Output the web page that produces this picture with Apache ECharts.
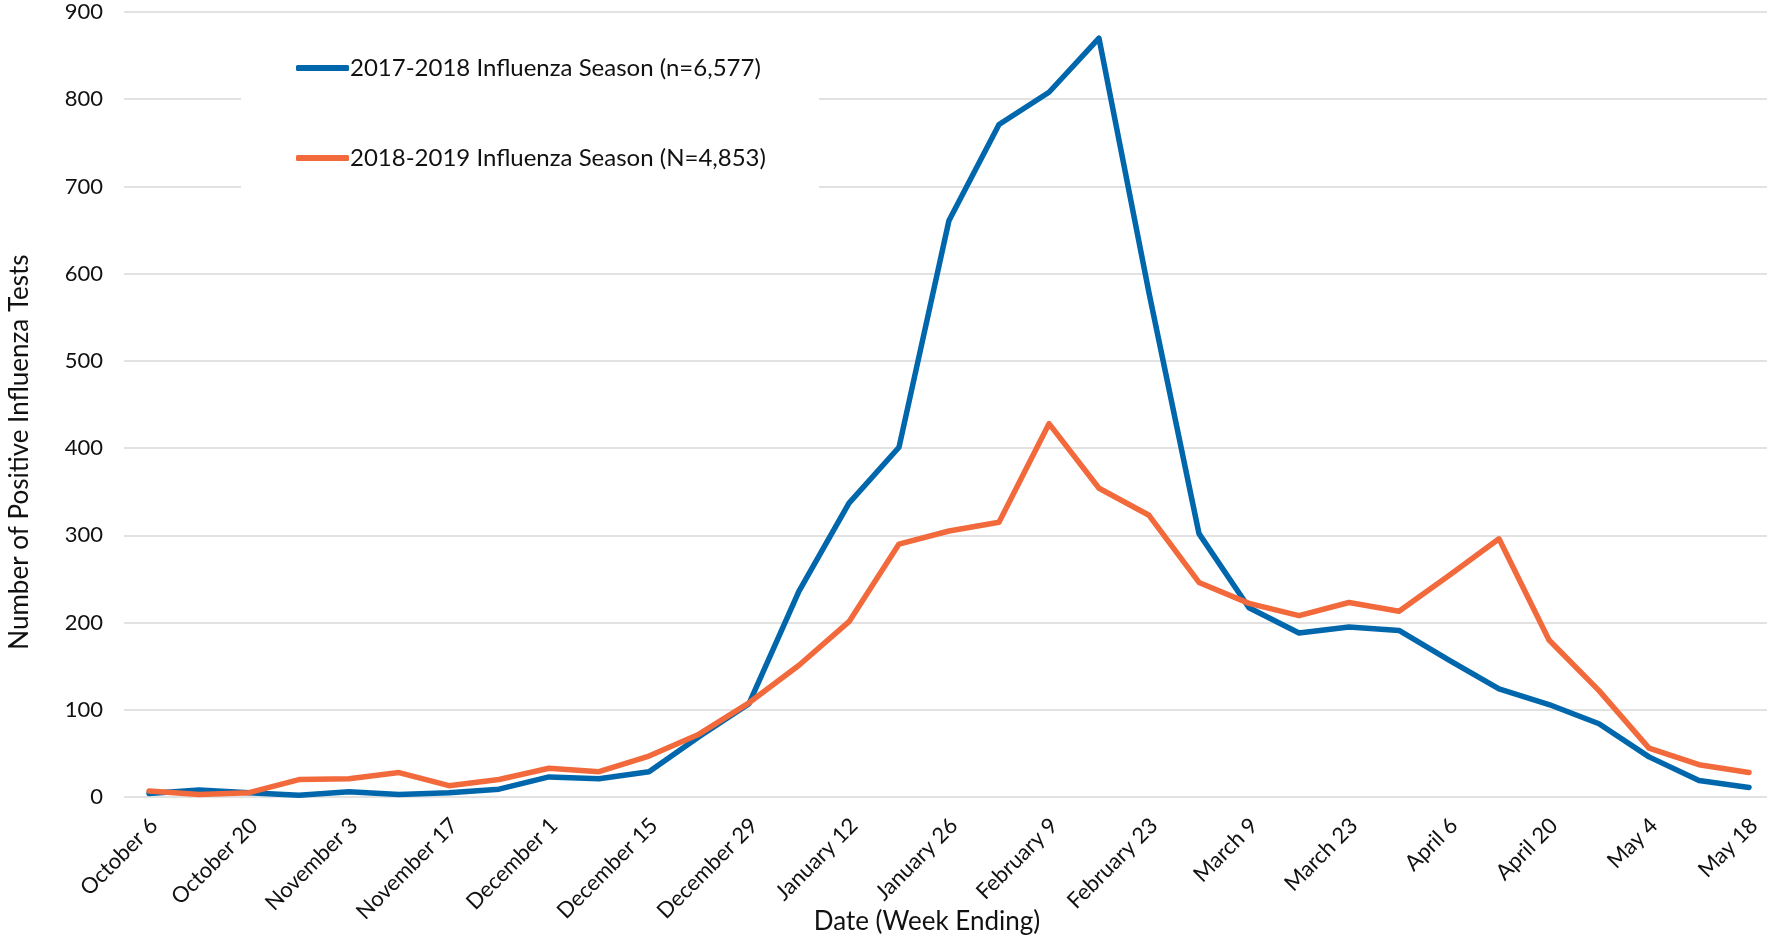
<!DOCTYPE html>
<html>
<head>
<meta charset="utf-8">
<script src="https://cdn.jsdelivr.net/npm/echarts@6/dist/echarts.min.js"></script>
<style>
html,body{margin:0;padding:0;background:#fff;}
#chart{width:1767px;height:938px;}
</style>
</head>
<body>
<div id="chart"></div>
<script>
const weeks = ['October 6','October 13','October 20','October 27','November 3','November 10','November 17','November 24','December 1','December 8','December 15','December 22','December 29','January 5','January 12','January 19','January 26','February 2','February 9','February 16','February 23','March 2','March 9','March 16','March 23','March 30','April 6','April 13','April 20','April 27','May 4','May 11','May 18'];
const season2017 = [4, 8, 5, 2, 6, 3, 5, 9, 23, 21, 29, 69, 107, 236, 337, 401, 661, 771, 808, 870, 578, 302, 217, 188, 195, 191, 157, 124, 106, 84, 46, 19, 11];
const season2018 = [7, 3, 5, 20, 21, 28, 13, 20, 33, 29, 47, 72, 108, 151, 201, 290, 305, 315, 428, 354, 323, 246, 222, 208, 223, 213, 254, 296, 180, 122, 56, 37, 28];
const seriesNames = ['2017-2018 Influenza Season (n=6,577)', '2018-2019 Influenza Season (N=4,853)'];
const yTitle = 'Number of Positive Influenza Tests';
const xTitle = 'Date (Week Ending)';

const FONT = 'Lato, "Open Sans", sans-serif';
const chart = echarts.init(document.getElementById('chart'));
chart.setOption({
  animation: false,
  backgroundColor: '#fff',
  textStyle: {fontFamily: FONT},
  grid: {left: 124, right: -7, top: 12, bottom: 141, containLabel: false, outerBoundsMode: 'none'},
  graphic: [
    {type: 'rect', z: 1, shape: {x: 241, y: 24, width: 578, height: 172}, style: {fill: '#fff'}},
    {type: 'text', x: 20, y: 452, rotation: Math.PI / 2,
     style: {text: yTitle, font: '26px ' + FONT, fill: '#111', align: 'center', verticalAlign: 'middle'}},
    {type: 'text', x: 927, y: 922,
     style: {text: xTitle, font: '26px ' + FONT, fill: '#111', align: 'center', verticalAlign: 'middle'}}
  ],
  legend: {
    orient: 'vertical', left: 296, top: 53, z: 5,
    itemWidth: 53, itemHeight: 6, itemGap: 60, padding: 0,
    icon: 'roundRect',
    textStyle: {fontSize: 24, color: '#111', fontFamily: FONT, lineHeight: 30, padding: [0, 0, 0, -4]},
    data: seriesNames
  },
  xAxis: {
    type: 'category', data: weeks, boundaryGap: true,
    axisLine: {show: false}, axisTick: {show: false},
    axisLabel: {interval: 1, rotate: 45, margin: 30, padding: [14, -7, 0, 0], fontSize: 22, color: '#111', fontFamily: FONT},
    splitLine: {show: false}
  },
  yAxis: {
    type: 'value', min: 0, max: 900, interval: 100,
    axisLine: {show: false}, axisTick: {show: false},
    axisLabel: {margin: 21, fontSize: 22, color: '#111', fontFamily: FONT},
    splitLine: {show: true, lineStyle: {color: '#d9d9d9', width: 1.5}}
  },
  series: [
    {name: seriesNames[0], type: 'line', data: season2017, symbol: 'none', z: 3,
     itemStyle: {color: '#0067ac'},
     lineStyle: {color: '#0067ac', width: 5.5, cap: 'round', join: 'round'}},
    {name: seriesNames[1], type: 'line', data: season2018, symbol: 'none', z: 4,
     itemStyle: {color: '#f26a3b'},
     lineStyle: {color: '#f26a3b', width: 5.5, cap: 'round', join: 'round'}}
  ]
});
</script>
</body>
</html>
